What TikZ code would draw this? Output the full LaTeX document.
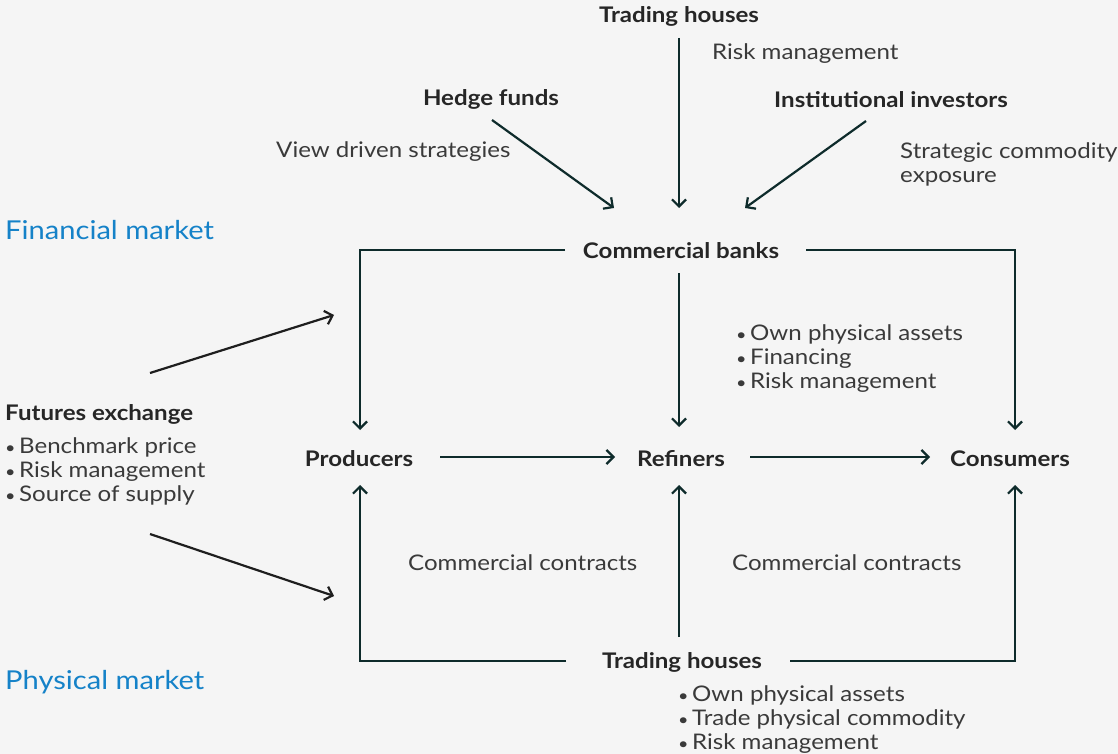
\documentclass[tikz,border=0pt]{standalone}
\usepackage{fontspec}
\setmainfont{Lato}[FakeStretch=1.12]
\usetikzlibrary{arrows.meta}
\definecolor{bg}{HTML}{F5F5F5}
\definecolor{ln}{HTML}{0E2B2B}
\definecolor{ln2}{HTML}{1E1E1E}
\definecolor{tx}{HTML}{262626}
\definecolor{tx2}{HTML}{3A3A3A}
\definecolor{blu}{HTML}{1582C8}
\tikzset{
  x=1pt,y=-1pt,
  head/.style={font=\fontsize{21.5}{24}\selectfont\bfseries, text=tx, inner sep=0pt, anchor=center, yshift=-1.5pt},
  lbl/.style={font=\fontsize{21.5}{24}\selectfont, text=tx2, inner sep=0pt, anchor=west, align=left, yshift=-2pt},
  mkt/.style={font=\fontsize{26}{30}\selectfont, text=blu, inner sep=0pt, anchor=west, yshift=-1.5pt},
  conn/.style={draw=ln, line width=2.2pt, -{Straight Barb[length=7pt,width=14pt,line width=2.2pt]}},
  fconn/.style={draw=ln2, line width=2.2pt, -{Straight Barb[length=7pt,width=14pt,line width=2.2pt]}},
}
\newcommand{\bul}{{\fontsize{16}{16}\selectfont•}\,}
\begin{document}
\begin{tikzpicture}
\fill[bg] (0,0) rectangle (1118,754);
\useasboundingbox (0,0) rectangle (1118,754);

% heads
\node[head] (th1) at (679,15) {Trading houses};
\node[head] (hf) at (491,98) {Hedge funds};
\node[head] (ii) at (891,98) {Institutional investors};
\node[head] (cb) at (681,249) {Commercial banks};
\node[head] (pr) at (359,457) {Producers};
\node[head] (re) at (681,457) {Refiners};
\node[head] (co) at (1010,457) {Consumers};
\node[head] (th2) at (682,661) {Trading houses};
\node[head, anchor=west] (fe) at (5,413) {Futures exchange};

% labels
\node[lbl] (l1) at (712,52) {Risk management};
\node[lbl] (l2) at (276,150) {View driven strategies};
\node[lbl] (l3) at (900,162) {Strategic commodity\\exposure};
\node[lbl] (l4) at (736,357) {\bul Own physical assets\\\bul Financing\\\bul Risk management};
\node[lbl] (l5) at (5,469) {\bul Benchmark price\\\bul Risk management\\\bul Source of supply};
\node[lbl] (l6) at (408,561) {Commercial contracts};
\node[lbl] (l7) at (732,561) {Commercial contracts};
\node[lbl] (l8) at (678,718) {\bul Own physical assets\\\bul Trade physical commodity\\\bul Risk management};

\node[mkt] (fm) at (5,229) {Financial market};
\node[mkt] (pm) at (5,681) {Physical market};

% coordinates
\coordinate (a1) at (679,38);
\coordinate (a1e) at (679,208);
\coordinate (a2) at (492,120);
\coordinate (a2e) at (614,208);
\coordinate (a3) at (866,121);
\coordinate (a3e) at (745,208);
\coordinate (cbl) at (565,250);
\coordinate (cbr) at (806,250);
\coordinate (cbd) at (679,273);
\coordinate (prt) at (360,430);
\coordinate (cot) at (1015,430);
\coordinate (ret) at (679,427);
\coordinate (prr) at (440,457);
\coordinate (rel) at (615,457);
\coordinate (rer) at (750,457);
\coordinate (col) at (930,457);
\coordinate (thl) at (566,661);
\coordinate (thr) at (790,661);
\coordinate (thu) at (679,637);
\coordinate (prb) at (360,485);
\coordinate (reb) at (679,485);
\coordinate (cob) at (1015,485);
\coordinate (fu1) at (150,373);
\coordinate (fu1e) at (334,315);
\coordinate (fu2) at (150,534);
\coordinate (fu2e) at (334,596);

% connectors
\draw[conn] (a1) -- (a1e);
\draw[conn] (a2) -- (a2e);
\draw[conn] (a3) -- (a3e);
\draw[conn] (cbl) -| (prt);
\draw[conn] (cbr) -| (cot);
\draw[conn] (cbd) -- (ret);
\draw[conn] (prr) -- (rel);
\draw[conn] (rer) -- (col);
\draw[conn] (thl) -| (prb);
\draw[conn] (thr) -| (cob);
\draw[conn] (thu) -- (reb);
\draw[fconn] (fu1) -- (fu1e);
\draw[fconn] (fu2) -- (fu2e);
\end{tikzpicture}
\end{document}
